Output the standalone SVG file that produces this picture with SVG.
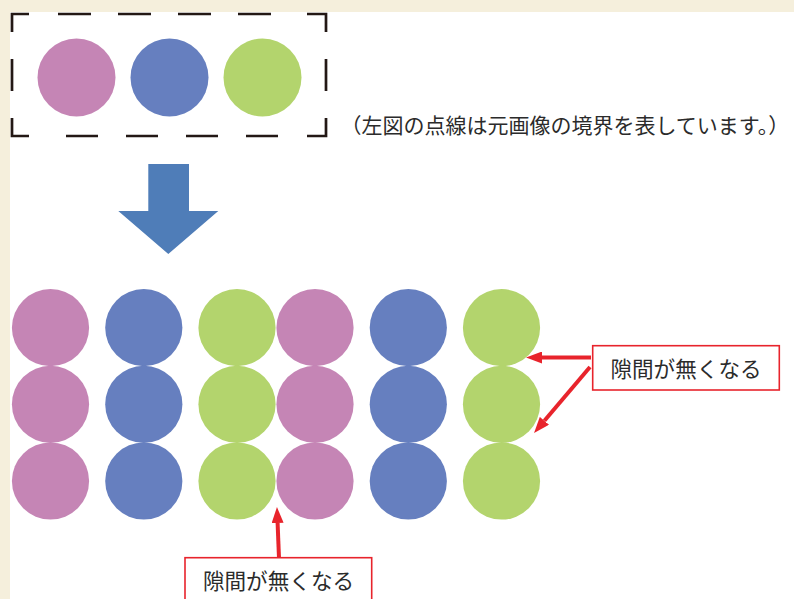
<svg xmlns="http://www.w3.org/2000/svg" width="794" height="599" viewBox="0 0 794 599">
  <style>
    .pink { fill: #c585b5; }
    .blue { fill: #667fbf; }
    .green { fill: #b3d46d; }
    .dash { fill: none; stroke: #231815; stroke-width: 2.7; }
    .lbl { font-family: "Noto Sans CJK JP", "Liberation Sans", sans-serif; font-size: 21px; fill: #2b2b2b; }
    .big { font-size: 21.6px; }
    .box { fill: #ffffff; stroke: #e8242c; stroke-width: 1.6; }
    .conn { stroke: #e8242c; stroke-width: 4; fill: none; }
  </style>
  <defs>
    <marker id="ah" viewBox="0 -6 16 12" refX="0" refY="0" markerWidth="16" markerHeight="12" markerUnits="userSpaceOnUse" orient="auto">
      <path d="M0,-6 L16,0 L0,6 z" fill="#e8242c"/>
    </marker>
  </defs>
  <rect x="0" y="0" width="794" height="599" fill="#f5efdc"/>
  <rect x="10" y="12" width="784" height="587" fill="#ffffff"/>

  <g id="original-image">
    <path class="dash" d="M12,32 V14 H29 M58,14 H91 M118,14 H151 M178,14 H211 M238,14 H271 M307,14 H326 V32 M326,59 V91 M326,118 V136 H307 M278,136 H246 M218,136 H186 M158,136 H126 M98,136 H66 M29,136 H12 V118 M12,91 V59"/>
    <circle class="pink" cx="76.5" cy="77.5" r="39"/>
    <circle class="blue" cx="169.5" cy="77.5" r="39"/>
    <circle class="green" cx="262.5" cy="77.5" r="39"/>
  </g>

  <g id="caption">
    <text class="lbl" x="340.5" y="133">（左図の点線は元画像の境界を表しています。）</text>
  </g>

  <g id="down-arrow">
    <polygon points="148.3,164 189,164 189,211 218.3,211 168.3,254 118.3,211 148.3,211" fill="#4f7db8"/>
  </g>

  <g id="tiled-image">
    <circle class="pink" cx="50.5" cy="327.7" r="38.6"/>
    <circle class="pink" cx="50.5" cy="404.3" r="38.6"/>
    <circle class="pink" cx="50.5" cy="481" r="38.6"/>
    <circle class="blue" cx="143.8" cy="327.7" r="38.6"/>
    <circle class="blue" cx="143.8" cy="404.3" r="38.6"/>
    <circle class="blue" cx="143.8" cy="481" r="38.6"/>
    <circle class="green" cx="237" cy="327.7" r="38.6"/>
    <circle class="green" cx="237" cy="404.3" r="38.6"/>
    <circle class="green" cx="237" cy="481" r="38.6"/>
    <circle class="pink" cx="315" cy="327.7" r="38.6"/>
    <circle class="pink" cx="315" cy="404.3" r="38.6"/>
    <circle class="pink" cx="315" cy="481" r="38.6"/>
    <circle class="blue" cx="408.3" cy="327.7" r="38.6"/>
    <circle class="blue" cx="408.3" cy="404.3" r="38.6"/>
    <circle class="blue" cx="408.3" cy="481" r="38.6"/>
    <circle class="green" cx="501.5" cy="327.7" r="38.6"/>
    <circle class="green" cx="501.5" cy="404.3" r="38.6"/>
    <circle class="green" cx="501.5" cy="481" r="38.6"/>
  </g>

  <g id="connectors">
    <line class="conn" x1="591" y1="357.5" x2="542" y2="357.5" marker-end="url(#ah)"/>
    <line class="conn" x1="590" y1="367" x2="544.4" y2="420.8" marker-end="url(#ah)"/>
    <line class="conn" x1="279" y1="558" x2="277.6" y2="523" marker-end="url(#ah)"/>
  </g>

  <g id="label-right">
    <rect class="box" x="592.7" y="345.7" width="186.6" height="44.3"/>
    <text class="lbl big" x="686" y="376.5" text-anchor="middle">隙間が無くなる</text>
  </g>

  <g id="label-bottom">
    <rect class="box" x="185" y="557.7" width="186.7" height="50"/>
    <text class="lbl big" x="278.5" y="588.5" text-anchor="middle">隙間が無くなる</text>
  </g>
</svg>
